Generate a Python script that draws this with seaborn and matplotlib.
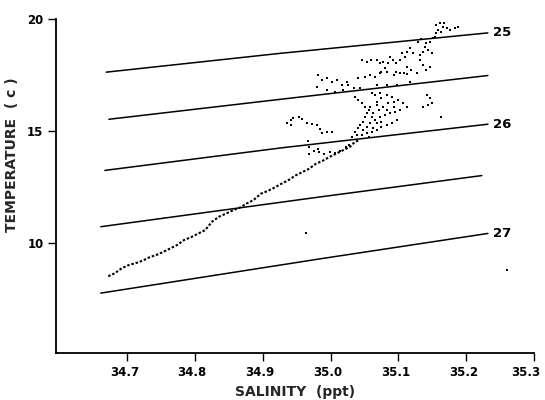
import matplotlib
matplotlib.use("Agg")
import matplotlib.pyplot as plt
import matplotlib.transforms as mtransforms
import seaborn as sns
import pandas as pd

# ---- isopycnals (sigma-t) : salinity / temperature vertices ----
iso_names = ["25", "25.5", "26", "26.5", "27"]
iso25_sal = [34.669, 34.926, 35.232]
iso25_temp = [17.63, 18.47, 19.38]
iso255_sal = [34.673, 34.926, 35.232]
iso255_temp = [15.53, 16.42, 17.48]
iso26_sal = [34.667, 34.926, 35.232]
iso26_temp = [13.25, 14.25, 15.31]
iso265_sal = [34.661, 34.985, 35.223]
iso265_temp = [10.74, 12.07, 13.02]
iso27_sal = [34.661, 34.985, 35.232]
iso27_temp = [7.78, 9.31, 10.44]
labelled = ["25", "26", "27"]

# ---- CTD profile: lower, continuous T-S trace ----
profile_sal = [34.672, 34.682, 34.692, 34.703, 34.713, 34.723, 34.733, 34.743,
               34.754, 34.764, 34.774, 34.784, 34.794, 34.805, 34.815, 34.825,
               34.835, 34.846, 34.856, 34.866, 34.876, 34.886, 34.897, 34.907,
               34.917, 34.927, 34.937, 34.948, 34.958, 34.968, 34.978, 34.989,
               34.999, 35.009, 35.019, 35.029, 35.035, 35.042]
profile_temp = [8.53, 8.67, 8.89, 9.04, 9.12, 9.23, 9.38, 9.48,
                9.63, 9.78, 9.93, 10.15, 10.27, 10.44, 10.59, 10.96,
                11.18, 11.33, 11.47, 11.59, 11.77, 11.92, 12.21, 12.33,
                12.48, 12.65, 12.80, 13.02, 13.17, 13.32, 13.54, 13.69,
                13.86, 14.01, 14.16, 14.31, 14.50, 14.60]

# ---- scattered upper-water observations ----
cluster_sal = [
    # near-surface patch
    35.156, 35.161, 35.166, 35.171, 35.159, 35.163, 35.176, 35.183, 35.188,
    35.168, 35.156, 35.154,
    # between 25 and 25.5
    35.129, 35.134, 35.141, 35.146, 35.151, 35.139, 35.144, 35.137, 35.149,
    35.132, 35.117, 35.112, 35.105, 35.110, 35.102, 35.097, 35.092, 35.087,
    35.085, 35.078, 35.073, 35.068, 35.060, 35.053, 35.046, 35.080, 35.075,
    35.097, 35.109, 35.119, 35.132, 35.137, 35.141, 35.146, 35.112, 35.122,
    34.982, 34.987, 34.995, 35.002, 35.009, 35.017, 35.024, 35.026, 35.041,
    35.051, 35.058, 35.066, 35.073, 35.083, 35.093, 35.103, 35.112, 35.127,
    35.068, 35.083, 35.098, 35.117, 34.980, 34.995, 35.007, 35.019, 35.034,
    35.044,
    # between 25.5 and 26
    35.036, 35.041, 35.046, 35.051, 35.056, 35.053, 35.051, 35.048, 35.044,
    35.041, 35.036, 35.039, 35.046, 35.053, 35.061, 35.068, 35.075, 35.083,
    35.090, 35.098, 35.058, 35.066, 35.073, 35.080, 35.088, 35.095, 35.103,
    35.063, 35.071, 35.078, 35.085, 35.093, 35.100, 35.068, 35.075, 35.066,
    35.061, 35.073, 35.083, 35.090, 35.107, 35.112, 35.142, 35.147, 35.144,
    35.137, 35.149, 35.058, 35.068, 35.093, 35.083, 35.061, 35.068, 35.075,
    35.053, 35.063, 35.048, 35.056, 35.031, 35.163,
    # western loop
    34.936, 34.941, 34.945, 34.953, 34.958, 34.965, 34.972, 34.980, 34.984,
    34.987, 34.995, 35.002, 34.941,
    # hook just under the 26 line
    34.966, 34.968, 34.968, 34.976, 34.983, 34.991, 34.999, 35.006, 35.014,
    35.022, 35.027, 34.981,
    # isolated points
    34.964, 35.260,
]
cluster_temp = [
    19.73, 19.81, 19.66, 19.58, 19.51, 19.43, 19.51, 19.58, 19.63,
    19.84, 19.36, 19.21,
    18.99, 19.09, 18.91, 18.99, 19.14, 18.77, 18.62, 18.54, 18.47,
    18.39, 18.69, 18.54, 18.47, 18.32, 18.17, 18.02, 18.17, 18.32,
    18.02, 18.10, 18.02, 18.17, 18.17, 18.10, 18.17, 17.80, 17.65,
    17.65, 17.58, 17.73, 18.17, 17.95, 17.73, 17.87, 17.87, 18.47,
    17.50, 17.28, 17.35, 17.21, 17.28, 17.06, 17.21, 17.06, 17.35,
    17.43, 17.50, 17.43, 17.58, 17.65, 17.50, 17.58, 17.55, 17.58,
    17.06, 17.06, 17.06, 17.21, 16.98, 16.83, 16.76, 16.83, 16.91,
    16.91,
    16.54, 16.39, 16.24, 16.09, 15.94, 15.79, 15.65, 15.42, 15.27,
    15.13, 14.98, 14.83, 14.83, 14.90, 14.98, 15.05, 15.20, 15.27,
    15.35, 15.50, 15.35, 15.50, 15.65, 15.72, 15.79, 15.87, 15.94,
    15.79, 15.94, 16.09, 16.24, 16.31, 16.39, 16.31, 16.46, 16.61,
    16.69, 16.69, 16.61, 16.54, 16.24, 16.09, 16.61, 16.46, 16.17,
    16.09, 16.24, 16.09, 16.17, 16.09, 15.94, 15.65, 15.35, 15.42,
    15.20, 15.13, 15.05, 14.75, 14.75, 15.63,
    15.38, 15.50, 15.57, 15.64, 15.53, 15.38, 15.32, 15.27, 15.08,
    14.93, 14.96, 14.98, 15.27,
    14.57, 14.28, 13.98, 14.13, 14.06, 13.98, 14.06, 14.01, 14.13,
    14.28, 14.40, 14.20,
    10.47, 8.82,
]

# ---- axes ----
sal_ticks = [34.7, 34.8, 34.9, 35.0, 35.1, 35.2, 35.3]
sal_ticklabels = ["34.7", "34.8", "34.9", "35.0", "35.1", "35.2", "35.3"]
temp_ticks = [10, 15, 20]
temp_ticklabels = ["10", "15", "20"]

sns.set_style("ticks")
plt.rcParams["font.family"] = ["DejaVu Sans"]
plt.rcParams["font.weight"] = "bold"

fig = plt.figure(figsize=(5.45, 4.0), dpi=100)
ax = fig.add_axes([0.1028, 0.1175, 0.877, 0.835])

iso_sal = [iso25_sal, iso255_sal, iso26_sal, iso265_sal, iso27_sal]
iso_temp = [iso25_temp, iso255_temp, iso26_temp, iso265_temp, iso27_temp]
iso_df = pd.concat(
    [pd.DataFrame({"sal": s, "temp": t, "sigma": n})
     for s, t, n in zip(iso_sal, iso_temp, iso_names)],
    ignore_index=True,
)
sns.lineplot(data=iso_df, x="sal", y="temp", units="sigma", estimator=None,
             sort=False, color="black", linewidth=1.1, ax=ax)

for s, t, n in zip(iso_sal, iso_temp, iso_names):
    if n in labelled:
        ax.text(s[-1] + 0.008, t[-1], n, ha="left", va="center",
                fontsize=9.5, fontweight="bold", color="black")

prof_df = pd.DataFrame({"sal": profile_sal, "temp": profile_temp})
sns.lineplot(data=prof_df, x="sal", y="temp", sort=False, color="black",
             linewidth=1.5, linestyle=(0, (1.2, 0.9)), ax=ax)

cl_df = pd.DataFrame({"sal": cluster_sal, "temp": cluster_temp})
sns.scatterplot(data=cl_df, x="sal", y="temp", color="black", s=2.5,
                linewidth=0, marker="s", ax=ax)

ax.set_xlim(34.595, 35.3)
ax.set_ylim(5.11, 20)
ax.set_xticks(sal_ticks)
ax.set_xticklabels(sal_ticklabels)
ax.set_yticks(temp_ticks)
ax.set_yticklabels(temp_ticklabels)
ax.tick_params(axis="both", direction="out", length=6, width=1.0,
               pad=3, labelsize=8.5, colors="black")
for lab in ax.get_xticklabels() + ax.get_yticklabels():
    lab.set_fontweight("bold")

# nudge the x tick labels slightly left; the last one sits at the figure edge
xlabs = ax.get_xticklabels()
for i, lab in enumerate(xlabs):
    dx = -6 / 72 if i == len(xlabs) - 1 else -2 / 72
    lab.set_transform(lab.get_transform() +
                      mtransforms.ScaledTranslation(dx, 0, fig.dpi_scale_trans))

sns.despine(ax=ax, top=True, right=True)
for side in ("left", "bottom"):
    ax.spines[side].set_linewidth(1.3)
    ax.spines[side].set_color("black")

ax.set_xlabel("SALINITY  (ppt)", fontsize=10, fontweight="bold", labelpad=5)
ax.set_ylabel("TEMPERATURE  ( c )", fontsize=10, fontweight="bold")
ax.yaxis.set_label_coords(-0.077, 0.593)

fig.savefig("out.png", dpi=100, facecolor="white")
